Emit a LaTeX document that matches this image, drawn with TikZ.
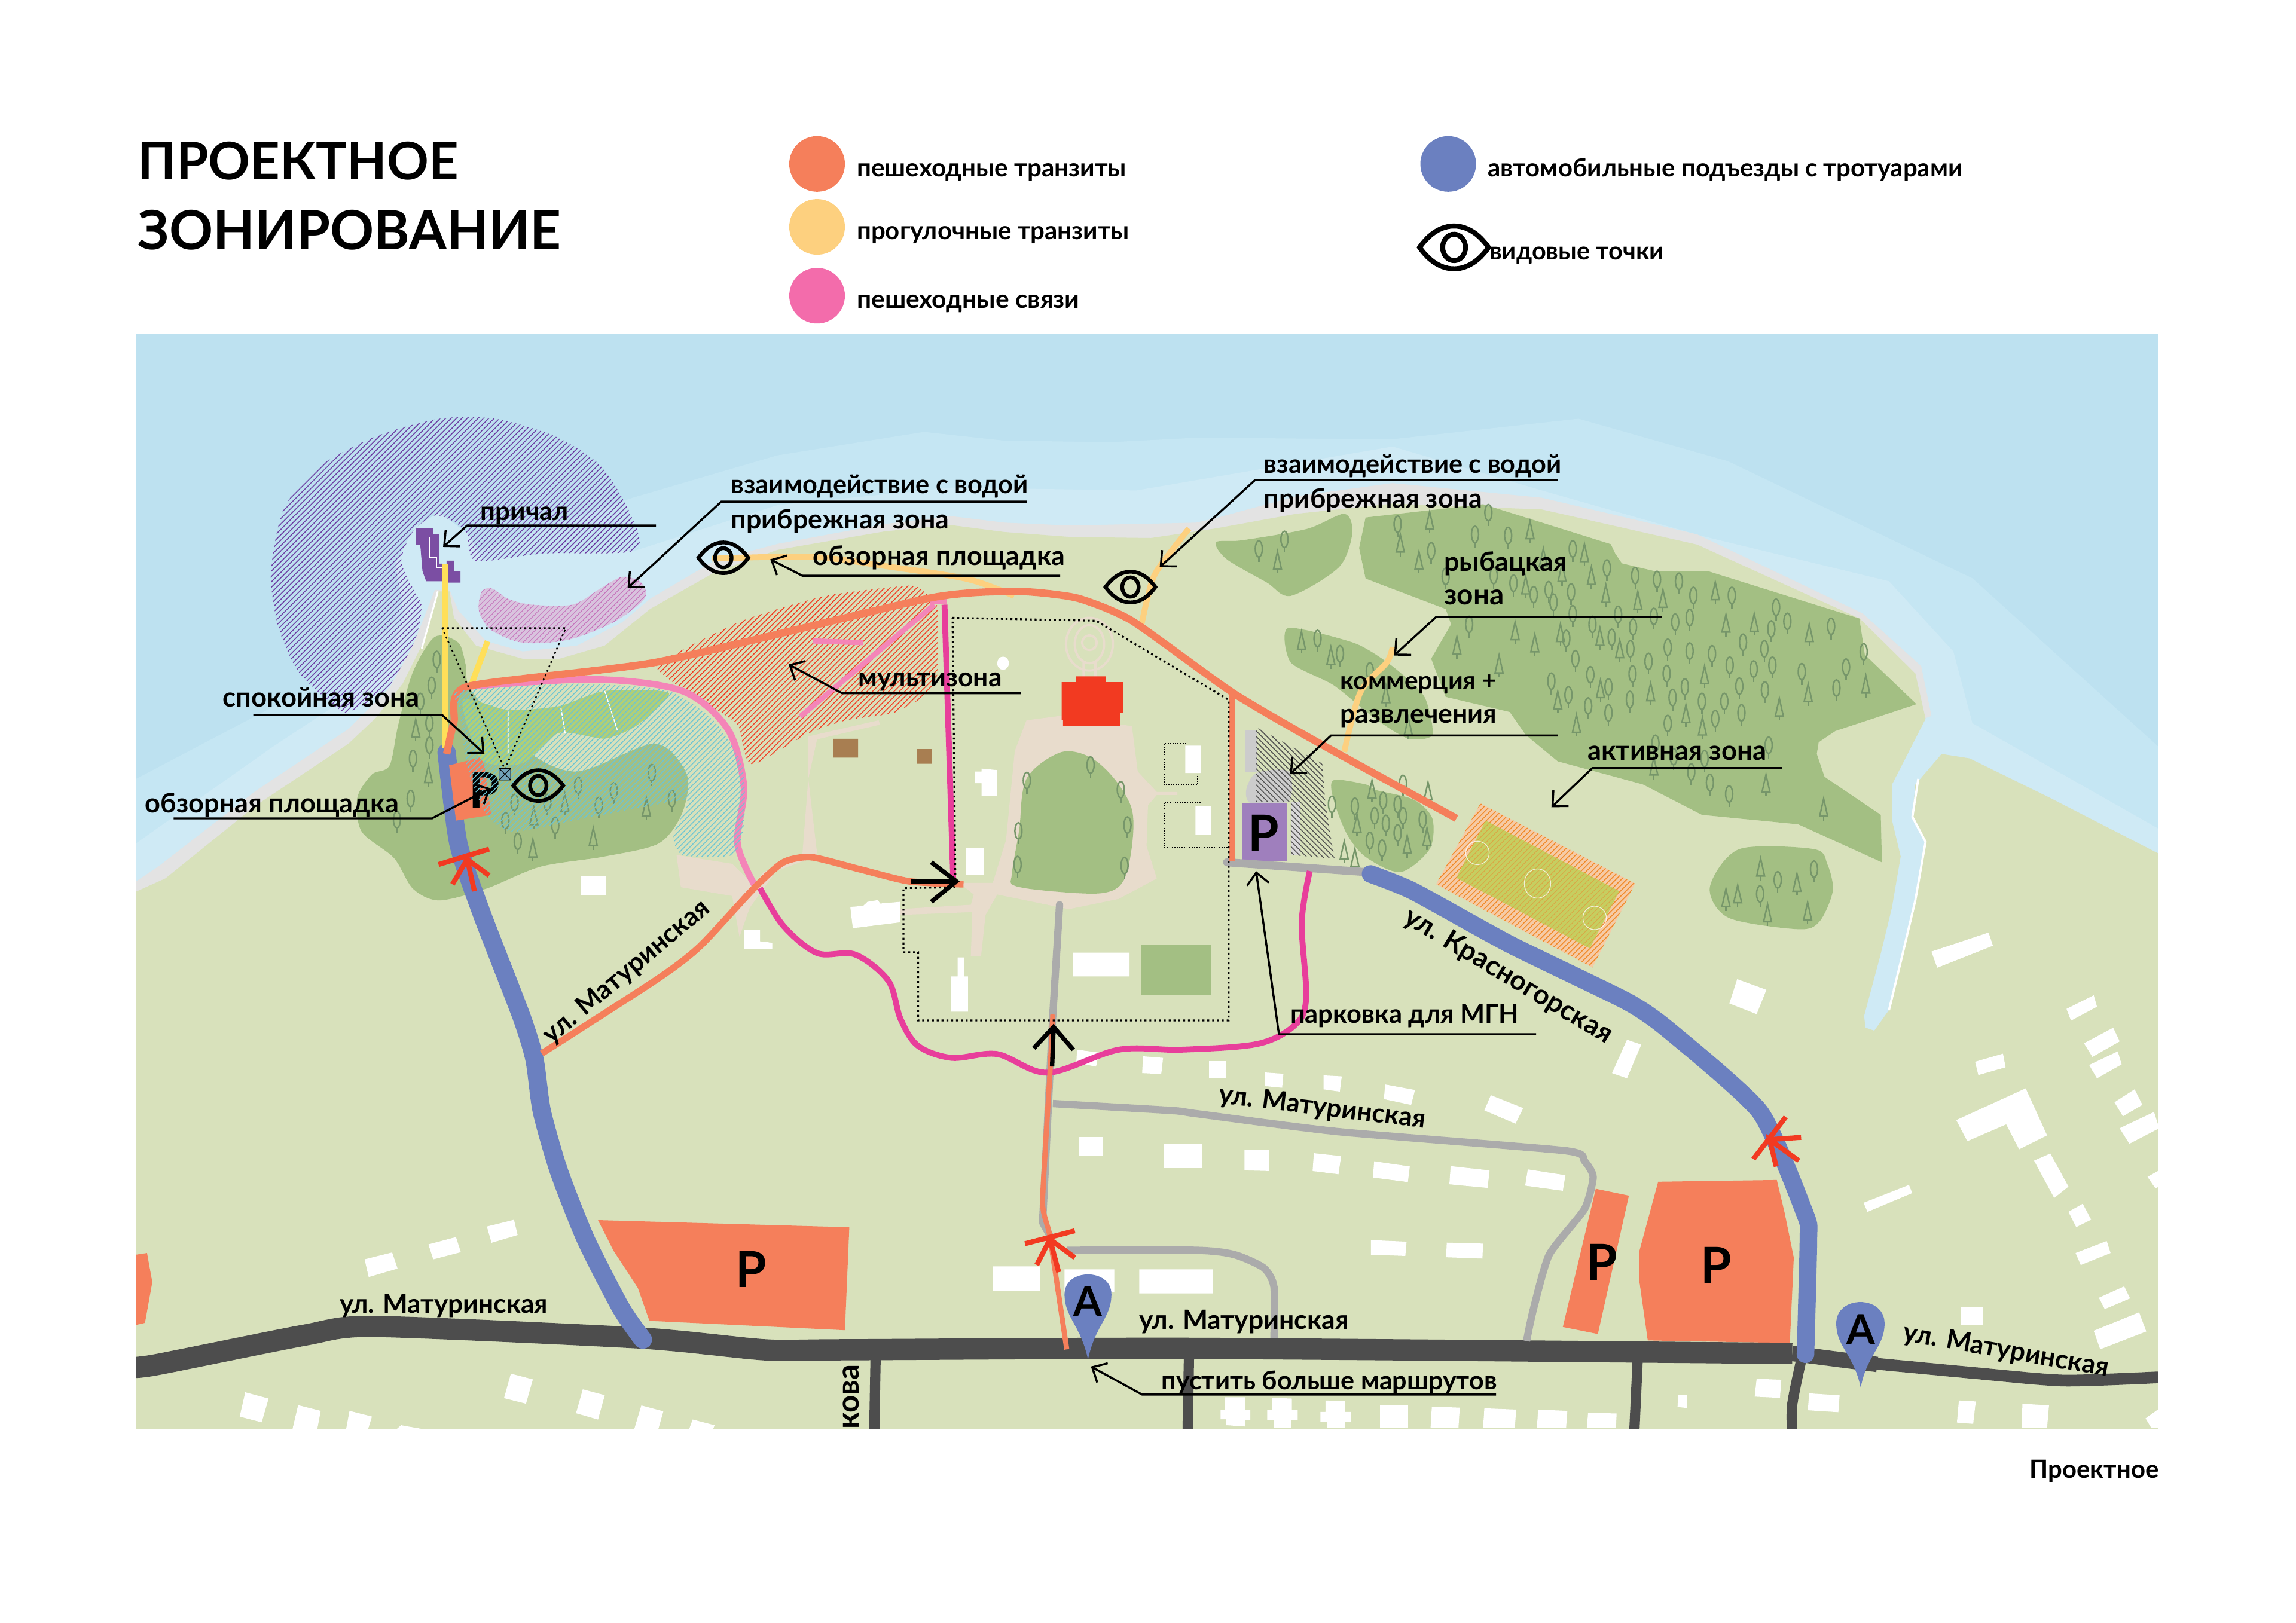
\documentclass[tikz,border=0pt]{standalone}
\usepackage{fontspec}
\setmainfont{Lato}
\usetikzlibrary{arrows.meta,patterns.meta}
\definecolor{waterD}{HTML}{BDE1F0}
\definecolor{waterM}{HTML}{C5E6F3}
\definecolor{waterL}{HTML}{CFEAF5}
\definecolor{beach}{HTML}{E3E3E3}
\definecolor{land}{HTML}{D8E1BB}
\definecolor{forest}{HTML}{A3BF83}
\definecolor{treeC}{HTML}{76966A}
\definecolor{paved}{HTML}{E8DCCC}
\definecolor{orangeL}{HTML}{F57F5B}
\definecolor{paleO}{HTML}{FDD07F}
\definecolor{yellowL}{HTML}{FFDF59}
\definecolor{pinkL}{HTML}{F485B8}
\definecolor{magentaL}{HTML}{E83E9B}
\definecolor{legPink}{HTML}{F36CAB}
\definecolor{blueR}{HTML}{6B80C0}
\definecolor{darkR}{HTML}{4D4D4D}
\definecolor{grayR}{HTML}{ABABAB}
\definecolor{redM}{HTML}{F23A21}
\definecolor{violetH}{HTML}{6E3FA3}
\definecolor{pierC}{HTML}{7B4EA3}
\definecolor{parkV}{HTML}{9F7FBD}
\definecolor{brownB}{HTML}{A87E51}
\definecolor{lilacF}{HTML}{D9C3DE}
\definecolor{lilacH}{HTML}{C46DB8}
\definecolor{cyanH}{HTML}{6CC5D4}
\definecolor{brightG}{HTML}{B0CF78}
\definecolor{brightH}{HTML}{9CC468}
\definecolor{fieldF}{HTML}{C6CE60}
\definecolor{fieldH}{HTML}{DCA543}
\definecolor{stadF}{HTML}{F6CBA6}
\definecolor{stadH}{HTML}{F08A2A}
\newcommand\fitw[2]{\resizebox{#1pt}{!}{\bfseries #2}}
\newcommand\bldpoly[1]{\fill plot coordinates {#1} -- cycle;}
\newcommand\treesD[5]{\foreach \a/\b in {#5}{\pgfmathsetmacro\px{#1+#2*\a}\pgfmathsetmacro\py{#3+#4*\b}\pic at (\px,\py) {treed};}}
\newcommand\treesC[5]{\foreach \a/\b in {#5}{\pgfmathsetmacro\px{#1+#2*\a}\pgfmathsetmacro\py{#3+#4*\b}\pic at (\px,\py) {treec};}}
\tikzset{
 lab/.style={anchor=base west,inner sep=0pt,font=\bfseries},
 street/.style={anchor=center,inner sep=0pt},
 bigP/.style={anchor=center,inner sep=0pt,font=\fontsize{34}{34}\selectfont\bfseries},
 pinA/.style={anchor=center,inner sep=0pt,font=\fontsize{28}{28}\selectfont\bfseries},
 lead/.style={line width=1.4pt,line join=miter,-{Straight Barb[length=8pt,width=15pt,line width=1.4pt]}},
 boldarrow/.style={line width=3pt,black},
 redx/.style={line width=3.4pt,redM},
 dotb/.style={line width=1.3pt,dotted,black},
 dotf/.style={line width=.7pt,densely dotted,black},
 hatchA/.style={pattern={Lines[angle=45,distance=2.6pt,line width=.6pt]}},
 hatchT/.style={pattern={Lines[angle=45,distance=2.6pt,line width=.4pt]}},
 hatchB/.style={pattern={Lines[angle=-45,distance=2.6pt,line width=.6pt]}},
 treeln/.style={line width=1pt,treeC},
 treed/.pic={\draw[treeln] (0,-2) ellipse (2.4 and 5.6); \draw[treeln] (0,3.6)--(0,7);},
 treec/.pic={\draw[treeln] (0,-8)--(2.7,4)--(-2.7,4)--cycle; \draw[treeln] (0,4)--(0,7);},
 eye/.pic={\draw[line width=2.6pt,black,line join=miter] (-17,0) .. controls (-7,-14) and (7,-14) .. (17,0) .. controls (7,14) and (-7,14) .. (-17,0) -- cycle; \draw[line width=2.6pt,black] (0,0) ellipse (5.6 and 6.6);},
 eyeL/.pic={\draw[line width=3.4pt,black,line join=miter] (-23.5,0) .. controls (-10,-19.5) and (10,-19.5) .. (23.5,0) .. controls (10,19.5) and (-10,19.5) .. (-23.5,0) -- cycle; \draw[line width=3.4pt,black] (0,0) ellipse (7.8 and 9);},
 road/.style={line cap=round,line join=round},
}
\begin{document}
\begin{tikzpicture}[x=1pt,y=-1pt]
\useasboundingbox (0,0) rectangle (1568,1108.6);
\fill[white] (0,0) rectangle (1568,1108.6);
\begin{scope}
\clip (93,228) rectangle (1474,976);
\fill[waterD] (93,228) rectangle (1474,976);
\fill[waterM] plot coordinates {(93,532) (207,472) (265,430) (280,400) (290,385) (330,375) (432,340) (531,311) (631,295) (686,301) (759,302) (817,299) (951,300) (1078,286) (1180,315) (1347,395) (1474,510) (1474,976) (93,976)} -- cycle;
\fill[waterL] plot coordinates {(93,576) (185,511) (262,460) (276,420) (270,385) (283,360) (300,350) (320,365) (330,383) (372,378) (434,376) (531,345) (650,333) (776,335) (951,305) (1053,335) (1162,366) (1290,397) (1334,445) (1347,494) (1474,566) (1474,976) (93,976)} -- cycle;
% violet hatch crescent
\path[hatchA,pattern color=violetH] plot[smooth cycle,tension=.45] coordinates {(434,376) (430,350) (410,318) (379,298) (338,286) (300,286) (257,298) (219,318) (194,347) (185,391) (190,428) (204,459) (232,485) (241,485) (263,472) (282,441) (288,415) (282,402) (274,383) (282,363) (297,352) (311,357) (319,365) (325,383) (372,378)};
% beach and land
\fill[beach] plot coordinates {(93,602) (108,592) (175,540) (238,498) (266,470) (282,441) (297,403) (307,403) (313,417) (332,438) (357,445) (394,441) (425,425) (444,409) (488,383) (531,371.5) (604,358) (649,352.5) (686,357) (731,359) (817,357) (830,354) (885,339) (951,330) (1053,340) (1159,365) (1272,419) (1312,455) (1319,489) (1290,500) (93,650)} -- cycle;
\fill[land] plot coordinates {(93,609) (113,600) (175,550) (238,508) (257,490) (275,467) (288,441) (299,404) (307,404) (310,422) (325,441) (357,450) (382,450) (413,441) (444,416) (488,391) (531,375.6) (604,363) (649,358.6) (686,363.4) (731,366.8) (786,367.5) (830,361) (885,351) (951,344) (1053,348) (1159,372) (1270,422.5) (1308,460) (1315,491) (1292,536) (1292,560) (1298,585) (1292,620) (1284,653) (1273,694) (1274,702) (1280,704) (1290,690) (1299,653) (1308,615) (1315,575) (1306,558) (1308,536) (1326,515) (1345,518) (1400,545) (1474,583) (1474,976) (93,976)} -- cycle;
\draw[white,line width=1.5pt] plot coordinates {(1310,532) (1306,558) (1315,575) (1308,615) (1299,653) (1290,690)};
\draw[white,line width=1.2pt] (288,443) -- (296,415) -- (299,404);
% bay lilac hatch
\path[fill=lilacF,postaction={hatchT,pattern color=lilacH}] plot[smooth cycle,tension=.5] coordinates {(329,404) (336,402) (347,409) (363,413) (391,413) (410,402) (425,394) (438,398) (440,409) (419,425) (388,437) (357,439) (335,430) (327,417)};
% pier
\fill[pierC] (284,361) rectangle (296,372);
\fill[pierC] plot coordinates {(291,365) (300,365) (300,385) (302,385) (302,397) (291,397) (288.5,390) (287,372)} -- cycle;
\fill[pierC] (305,383) rectangle (310,390) (305,390) rectangle (314.5,398);
\draw[white,line width=.8pt] plot coordinates {(293,367) (293,381) (298,381) (298,388) (303,388)};
% forests
\begin{scope}[fill=forest]
\fill plot[smooth cycle,tension=.5] coordinates {(297,435) (313,439) (318,454) (322,472) (357,511) (394,527) (447,508) (469,529) (466,555) (450,576) (413,585) (369,592) (332,607) (300,615) (282,607) (269,586) (247,568) (244,545) (254,529) (266,523) (272,495) (282,459)};
\fill plot[smooth cycle,tension=.5] coordinates {(830.5,370.4) (848.7,369) (892.5,361.3) (918,351) (923.5,364) (914.4,387.4) (881.5,407) (865,397.8) (837.8,382)};
\fill plot coordinates {(932.6,353.5) (1012.8,344.4) (1100,371.7) (1103,378) (1107.6,384.8) (1129.4,390) (1166,390) (1269.8,422.5) (1273.5,447.2) (1308.8,481) (1253.4,499.3) (1242,507) (1240.7,515) (1246,530.6) (1284.4,556.6) (1285.2,589) (1228,563) (1162.3,556.6) (1122,535.8) (1063.8,520) (1042,502) (1031,486.3) (987.3,476) (977.4,449.9) (991,426.4) (987.3,416) (932.6,395.2) (928.2,374.3)} -- cycle;
\fill plot[smooth cycle,tension=.4] coordinates {(879.7,429) (925.3,439.4) (950.8,455) (972.7,475.9) (978.2,502) (961.7,504.5) (939.9,491.5) (910.7,468) (881.5,452.5)};
\fill plot[smooth cycle,tension=.5] coordinates {(910.7,533) (932.6,535.8) (939.9,539.7) (965.4,546.2) (978.2,559.2) (976.3,580) (956.3,595.7) (932.6,585.3) (919.8,569.6) (910.7,546.2)};
\fill plot[smooth cycle,tension=.5] coordinates {(1187.8,580) (1238.8,580) (1248,590.5) (1251.6,608.7) (1242.5,629.5) (1228,634.7) (1180.5,626.9) (1167.7,606)};
\fill (779,645) rectangle (827,680);
\end{scope}
% paved paths
\fill[paved] plot coordinates {(701,492) (724,489) (773,496) (777,527) (790,541) (804,541) (804,543) (790,543) (784,550) (783,578) (790,600) (764,614) (730,621) (681,611) (673,625) (670,653) (663,653) (664,623) (614,625) (614,621) (663,618) (665,611) (655,603) (678,603) (687,574) (693,513)} -- cycle;
\fill[paved] plot coordinates {(552,503) (600,492) (601,495) (558,505) (552,532) (558,583) (548,583) (552,532)} -- cycle;
\fill[paved] plot coordinates {(462,584) (500,590) (515,605) (521,596) (550,583) (560,584) (530,595) (512,620) (505,640) (500,612) (465,606)} -- cycle;
\draw[paved,line width=1.6pt] (744,440) ellipse (16 and 18) (744,440) ellipse (10 and 13) (744,439) circle (5) (740,452)--(740,463) (748,452)--(748,463);
% green blob in the court
\fill[forest] plot[smooth cycle,tension=.55] coordinates {(724,514) (744,517) (761,532) (773,553) (773,578) (767,602) (753,610) (721,609) (693,605) (691,597) (696,567) (701,532)};
% multizone hatch
\path[hatchA,pattern color=redM] plot[smooth cycle,tension=.35] coordinates {(451,452) (507,424) (564,407) (621,400) (632,405) (640,414) (640,461) (632,475) (610,487) (578,492) (552,501) (515,522) (508,513) (503,494) (472,475) (451,459)};
% church
\fill[redM] plot coordinates {(725,466) (735,466) (735,462) (755,462) (755,466) (767,466) (767,487) (765,487) (765,496) (726,496) (726,492) (725,492)} -- cycle;
\fill[brownB] (569,504.6) rectangle (586,517.5) (626,511.7) rectangle (636.5,521.7);
% stadium
\path[fill=stadF,postaction={hatchA,pattern color=stadH}] plot coordinates {(1011,548.8) (1116.7,603.5) (1087.5,660.8) (980.7,604)} -- cycle;
\path[fill=fieldF,postaction={hatchT,pattern color=fieldH}] plot coordinates {(1014.6,560.5) (1105.8,608.7) (1085.7,647.8) (994.6,599.6)} -- cycle;
\draw[white,line width=.5pt,opacity=.75] (1050,603.5) ellipse (9 and 10) (1009,582.6) circle (8) (1089,627) circle (8);
% trees
\treesD{775.8}{.3646}{285.8}{.2604}{230/350,278/325,490/285,660/255,635/312,697/315,553/355,818/350,882/400,935/420,976/430,1017/435,1044/472,1116/472,1199/503,1220/540,1190/560,1302/553,1137/595,1177/612,1157/665,1192/655,1247/672,1330/660,1363/620,1312/715,1112/655,1079/625,1037/618,996/608,1037/530,1010/542,970/527,931/555,903/522,855/548,891/582,926/612,960/645,994/677,1028/712,1060/750,1102/750,1130/710,1178/720,1134/780,1085/795,1005/740,925/745,885/780,847/762,885/712,851/680,823/638,930/678,778/697,810/733,806/585,818/520,782/490,815/463,773/457,745/470,707/440,670/420,580/422,624/548,996/808,1007/895,1040/935,1075/963,1111/993,1185/865,1065/900,973/860,340/585,382/625,438/670,410/1025,463/1010,490/1020,500/1050,447/1050,468/1070,537/1060,490/1095,438/1115,461/1135,500/965,367/1020,1270/1190,1202/1218,1169/1255}
\treesC{775.8}{.3646}{285.8}{.2604}{550/275,738/300,495/335,530/380,763/372,840/360,853/420,798/412,730/445,880/467,940/485,987/480,1085/460,1105/545,1158/543,1261/570,710/565,795/570,747/597,601/603,869/580,906/612,1065/680,964/725,1030/782,1061/815,825/808,790/747,870/717,680/652,1205/765,1259/727,1367/705,310/590,365/630,468/730,510/815,970/920,1180/965,1288/1028,442/980,414/1070,508/1125,390/1140,410/1160,545/1105,547/985,1170/1185,1238/1225,1105/1265,1127/1255,1183/1305,1258/1300,265/380}
\treesD{81.7}{.3125}{224.6}{.2604}{693/875,682/943,657/985,677/1042,677/1100,641/1135,636/1240,606/1295,863/1250,935/1250,1002/1205,1080/1220,1163/1172,1207/1240,1047/1258,952/1310,843/1298,870/1352}
\treesC{81.7}{.3125}{224.6}{.2604}{647/1055,675/1175,905/1285,973/1250,1151/1262,1035/1340,903/1370}
\treesD{449.2}{.2864}{367.5}{.2344}{880/715,1032/670,1104/742,860/862,1120/845,858/960,1113/963}
% buildings
\begin{scope}[fill=white]
\fill (396.7,598) rectangle (413.6,611.3);
\bldpoly{(1319,650) (1358,637) (1361,646) (1323,661)}
\bldpoly{(508,635) (519,635) (519,643) (527.4,644) (527.4,648) (508,648)}
\bldpoly{(580.7,619.5) (589.5,618.8) (592.4,616) (599.6,614.8) (601,617.2) (614.7,616) (614.7,630) (582.4,634)}
\fill (659.7,579) rectangle (672,597.2);
\bldpoly{(666,527) (670.3,527) (670.3,525) (680.6,526) (680.6,543.8) (670.3,543.8) (670.3,535) (666,535)}
\fill (809.5,509.3) rectangle (820,528) (816.4,550.8) rectangle (827,570.3);
\fill (732.7,650.7) rectangle (771.4,667) (649.7,667) rectangle (661,691) (654,654) rectangle (658.3,667);
\fill (685,453) ellipse (4 and 4.5);
\bldpoly{(735.6,717) (750.5,719) (748.5,728.5) (735,726)}
\bldpoly{(780.6,721.5) (794.3,722.6) (793,733.6) (780,733)}
\fill (825.8,725) rectangle (837.3,735);
\bldpoly{(332.5,837.8) (351,833.2) (353.5,843.6) (335.7,848.9)}
\bldpoly{(292.6,850) (311.4,845) (314.7,855.3) (295.9,860.2)}
\bldpoly{(249,860.2) (267.8,855.5) (271.5,866.5) (251.8,872.3)}
\bldpoly{(348.9,938.3) (363.9,942.2) (359.2,958.8) (344.2,955)}
\bldpoly{(398,949) (413,953) (408.4,969.6) (393.4,965.3)}
\bldpoly{(167.5,951) (183.4,955.3) (178.7,971.5) (163.7,967.6)}
\bldpoly{(203.6,959.8) (219,963.7) (216.7,976) (199.8,976)}
\bldpoly{(238.7,963.7) (254,967.6) (251.4,976) (236.4,976)}
\bldpoly{(274,973.5) (288,976) (271,976)}
\bldpoly{(438,960) (453,964) (449.6,976) (433.2,976)}
\bldpoly{(473,969.6) (488,973.5) (487,976) (470.7,976)}
\fill (736.5,776.8) rectangle (753.4,789.3);
\fill (795,781) rectangle (821,798);
\fill (678,865) rectangle (710,881.7) (727,867) rectangle (761,882.7) (778,867) rectangle (828,883.5);
% east part (zoom 5 frame)
\begin{scope}[shift={(816.7,653.3)},x=.4427pt,y=-.2214pt]
\bldpoly{(20,322) (47,322) (47,376) (20,376)}
\bldpoly{(107,358) (135,362) (133,405) (107,400)}
\bldpoly{(197,367) (225,370) (222,417) (197,410)}
\bldpoly{(292,395) (338,412) (332,458) (290,440)}
\bldpoly{(455,428) (505,468) (493,516) (445,475)}
\bldpoly{(75,597) (113,597) (113,662) (75,660)}
\bldpoly{(182,607) (224,616) (220,672) (180,662)}
\bldpoly{(275,632) (330,648) (327,696) (273,682)}
\bldpoly{(393,647) (453,660) (450,714) (391,703)}
\bldpoly{(512,657) (570,675) (566,723) (508,707)}
\bldpoly{(270,875) (325,880) (323,924) (270,920)}
\bldpoly{(387,883) (443,886) (442,932) (386,928)}
\bldpoly{(835,70) (880,103) (865,178) (823,145)}
\bldpoly{(665,257) (687,272) (665,376) (642,360)}
\bldpoly{(1385,120) (1390,155) (1350,198) (1343,162)}
\bldpoly{(1415,220) (1425,262) (1383,310) (1370,268)}
\bldpoly{(1245,300) (1249,342) (1207,366) (1202,325)}
\bldpoly{(1422,293) (1428,333) (1390,376) (1378,335)}
\bldpoly{(1280,407) (1313,552) (1270,595) (1250,518) (1190,570) (1173,505)}
\bldpoly{(1448,410) (1460,458) (1430,493) (1417,450)}
\bldpoly{(1478,480) (1486,530) (1440,578) (1425,530)}
\bldpoly{(1318,608) (1346,710) (1324,745) (1293,630)}
\bldpoly{(1486,660) (1486,710) (1480,715) (1468,680)}
\bldpoly{(1100,705) (1105,730) (1036,788) (1030,760)}
\bldpoly{(1368,763) (1381,812) (1358,835) (1346,788)}
\bldpoly{(1405,878) (1411,915) (1365,952) (1357,915)}
\bldpoly{(1432,1018) (1441,1055) (1402,1088) (1393,1053)}
\bldpoly{(1180,1082) (1214,1082) (1214,1137) (1180,1137)}
\bldpoly{(1455,1098) (1466,1157) (1395,1212) (1385,1155)}
\bldpoly{(865,1303) (903,1306) (901,1362) (862,1358)}
\bldpoly{(744,1352) (758,1354) (757,1393) (743,1390)}
\bldpoly{(946,1348) (993,1354) (991,1406) (944,1400)}
\bldpoly{(1177,1370) (1203,1373) (1199,1442) (1174,1438)}
\bldpoly{(1275,1380) (1316,1385) (1313,1455) (1274,1455)}
\bldpoly{(1486,1395) (1486,1455) (1474,1455) (1465,1425)}
\bldpoly{(284,1385) (327,1385) (327,1455) (284,1455)}
\bldpoly{(364,1389) (407,1392) (405,1455) (362,1455)}
\bldpoly{(445,1394) (494,1398) (492,1455) (443,1455)}
\bldpoly{(528,1398) (573,1402) (571,1455) (526,1455)}
\bldpoly{(605,1408) (649,1410) (648,1455) (603,1455)}
\bldpoly{(45,1360) (76,1360) (76,1400) (84,1400) (84,1430) (76,1430) (76,1450) (47,1446) (47,1428) (38,1428) (38,1400) (45,1400)}
\bldpoly{(118,1362) (148,1364) (148,1400) (157,1400) (157,1430) (147,1430) (147,1455) (120,1455) (120,1430) (110,1430) (110,1400) (118,1400)}
\bldpoly{(200,1370) (230,1372) (230,1405) (239,1405) (239,1435) (230,1435) (230,1455) (202,1455) (202,1435) (192,1435) (192,1405) (200,1405)}
\end{scope}
\end{scope}
% orange parkings
\fill[orangeL] plot coordinates {(93,857) (100.4,855.9) (104,875.8) (99,903.6) (93,905)} -- cycle;
\fill[orangeL] plot coordinates {(408.4,833.4) (580,838.3) (577,908.6) (443.5,902.2) (435.6,879.7) (419,854.3)} -- cycle;
\fill[orangeL] plot coordinates {(1089.8,812) (1112.4,816.7) (1091.2,911.2) (1067.3,906.4)} -- cycle;
\fill[orangeL] plot coordinates {(1132.4,807.2) (1213.4,806) (1218.7,828.2) (1225,859) (1222.3,917.4) (1125.3,915.6) (1119.5,874.7) (1119.5,854.8)} -- cycle;
% gray parking hatch
\fill[gray!40] (850,499) rectangle (858.6,527.5);
\fill[gray!40] plot[smooth cycle,tension=.5] coordinates {(858,528) (880,527) (880,547) (855,549) (851,540)};
\fill[gray!30] (881.5,547.5) rectangle (888,584);
\path[hatchB,pattern color=darkR] plot coordinates {(857.8,496.7) (903,521.5) (905,547.5) (911.4,586.6) (881.5,584) (881.5,547.5) (857.8,547.5)} -- cycle;
\fill[parkV] (848,548.3) rectangle (878.6,588.4);
% roads
\draw[darkR,line width=14.5pt] plot[smooth,tension=.4] coordinates {(85,934) (105,932.5) (208,912) (255,906) (438,914) (522,922) (574,922) (817,921) (1224,924.5)};
\draw[darkR,line width=10.5pt] (1224,924.5) -- (1282,932);
\draw[darkR,line width=8pt] plot[smooth,tension=.4] coordinates {(1276,931) (1350,938) (1410,943) (1480,940.5)};
\draw[darkR,line width=7pt] (598,925) -- (597,980) (812,925) -- (811,980) (1118.6,925) -- (1116,980);
\draw[darkR,line width=7pt] plot[smooth,tension=.5] coordinates {(1231,925) (1224,959) (1224,980)};
\draw[grayR,line width=5.5pt,road] (838,589) -- (932,595.6);
\draw[grayR,line width=5pt,road] (723.6,618) -- (719,693) -- (717,733) -- (712,835) -- (717,844);
\draw[grayR,line width=5pt] plot[smooth,tension=.35] coordinates {(719,753.8) (801,758.6) (817,760.7) (914,773) (1069,786) (1082,793) (1088,804) (1082,826) (1058,857) (1047,895) (1042.5,916)};
\draw[grayR,line width=5pt] plot[smooth,tension=.4] coordinates {(728.5,854) (817,854) (843,857) (863,866) (870,879) (870,914)};
\draw[blueR,line width=12.5pt,road] plot[smooth,tension=.4] coordinates {(305,514) (313,576) (328.6,623) (356,694) (365,723.5) (370,759) (381.7,800) (400,846.5) (424,893.4) (439,915)};
\draw[blueR,line width=12pt,road] plot[smooth,tension=.35] coordinates {(936,597) (965,608.7) (1031,645) (1111,684) (1140,704) (1202,759.6) (1233,830) (1235,846) (1233,925)};
% pedestrian lines
\draw[yellowL,line width=4pt] (304,385) -- (304,511);
\draw[yellowL,line width=4pt] (333,438) -- (320.7,470.7);
\draw[paleO,line width=4pt] plot[smooth,tension=.5] coordinates {(486.4,381.6) (555,380.4) (609.6,387.4) (661,395.6) (692.6,407)};
\draw[paleO,line width=4pt] plot[smooth,tension=.5] coordinates {(812,361) (790,390) (784,407) (779,429)};
\draw[paleO,line width=4pt] plot[smooth,tension=.5] coordinates {(951,442) (947,452.5) (929,473) (918,513.6)};
\draw[pinkL,line width=4.5pt] plot[smooth,tension=.5] coordinates {(319,469) (406.7,464) (466,472) (497,498) (508,537) (503.6,576) (515,604)};
\draw[magentaL,line width=4pt] plot[smooth,tension=.55] coordinates {(519,606.6) (535,632.4) (558,651) (584,652) (606.7,670) (615,696) (627,714.4) (650,722.6) (681,720) (715.5,732.7) (764,717) (807,717) (859,713) (884.5,700) (892,681.6) (889,630) (894.5,595)};
\draw[magentaL,line width=4pt] (645,413) -- (651,602);
\draw[pinkL,line width=4pt] (635.4,411) -- (646.8,411);
\draw[pinkL,line width=3.6pt] (638,413) -- (546.6,489.4);
\draw[pinkL,line width=3.6pt] (555,437.8) -- (589.5,439);
\draw[orangeL,line width=5pt] plot[smooth,tension=.35] coordinates {(305,515) (310,493) (319,469) (450,452) (635,408.5) (695.5,404) (735.6,408.5) (773,424) (841.6,473) (898,506) (994.6,559)};
\draw[orangeL,line width=4pt] (841.6,473) -- (841.6,588);
\draw[orangeL,line width=4.5pt] plot[smooth,tension=.4] coordinates {(370,719.6) (449,668.7) (478,646.4) (515,606.6) (535,589) (554,585.5) (587,593.7) (621,602) (658,604)};
\draw[orangeL,line width=3.5pt] plot[smooth,tension=.3] coordinates {(719,693) (717,733) (712,821) (717,844.6) (728.5,921.7)};
% left parking, view zone
\fill[orangeL] plot coordinates {(306.7,522.8) (330,516.8) (335.4,556.6) (311.4,560.5)} -- cycle;
\node (pSmall) [bigP] at (331,540) {P};
\path[fill=brightG,postaction={hatchT,pattern color=brightH}] plot[smooth cycle,tension=.4] coordinates {(316,478.5) (347,485) (381.7,482.4) (413,472) (456.7,473.3) (435,495.4) (413,504.5) (381.7,500.6) (356.7,521.4) (328.6,519)};
\draw[white,line width=.7pt] (347,485)--(347,515) (383,483)--(386,501) (413,472)--(422,500);
\path[hatchA,pattern color=cyanH] plot[smooth cycle,tension=.4] coordinates {(314,472) (394,467) (456,472) (488,493) (507,524) (508,563) (500,584) (466,584) (460,570) (470,548) (457,548) (394,560) (350,568) (332,556) (319,524) (314,485)};
\draw[dotb,line width=1pt] (302,429) -- (386.4,429) -- (344.8,525.4) -- cycle;
\fill[gray!60!cyan] (340.8,524.8) rectangle (348.8,532.8);
\draw[black,line width=.5pt] (340.8,524.8) rectangle (348.8,532.8) (340.8,524.8)--(348.8,532.8) (340.8,532.8)--(348.8,524.8);
% dotted boundaries
\draw[dotb] plot coordinates {(650.5,422) (748.5,424) (839,478) (839,697) (627,697) (627,650.4) (617,650.4) (617,606.6) (652.5,606)} -- cycle;
\draw[dotf] (810,508) -- (795,508) -- (795,536) -- (818,536) -- (818,528);
\draw[dotf] (820,548) -- (795,548) -- (795,579) -- (839,579);
% arrows, red marks
\draw[redx] (299.5,590.5)--(334,580) (324,608.7)--(319,586.6) (309,604)--(319,587)--(334,598);
\draw[redx] (700,849.5)--(734,840.7) (723,869)--(717,846.5) (708,864)--(717,846.5)--(734,859);
\draw[redx] (1219.5,763)--(1197.4,791.7) (1230,776.9)--(1208.5,778.4) (1213,796.8)--(1208.5,778.4)--(1228.4,792.8);
\draw[boldarrow] (622,602)--(653,602) (636,589)--(653,602)--(636,616);
\draw[boldarrow] (718.5,728.5)--(719.5,701.5) (706,716)--(719.5,701.5)--(733,717);
% pins
\fill[blueR] (743,928.6) .. controls (738,905) and (727,900) .. (727,884) .. controls (727,866) and (759,866) .. (759,884) .. controls (759,900) and (748,905) .. (743,928.6) -- cycle;
\fill[blueR] (1270.7,947.8) .. controls (1266,925) and (1254,920) .. (1254,904) .. controls (1254,884.5) and (1287,884.5) .. (1287,904) .. controls (1287,920) and (1275,925) .. (1270.7,947.8) -- cycle;
\end{scope}
% parking and pin letters
\node (pA) [bigP] at (513,867) {P};
\node (pB) [bigP] at (1094,862) {P};
\node (pC) [bigP] at (1172,864) {P};
\node (pD) [bigP] at (863,569) {P};
\node (aA) [pinA] at (743,889) {A};
\node (aB) [pinA] at (1270.7,908) {A};
% eyes
\pic at (494,381) {eye};
\pic at (772,401) {eye};
\pic at (367.6,536.6) {eye};
\pic at (993,169) {eyeL};
% legend
\fill[orangeL] (558,112) circle (19);
\fill[paleO] (558,155) circle (19);
\fill[legPink] (558,202) circle (19);
\fill[blueR] (989,112) circle (19);
\node (t1) [lab] at (94,122.5) {\fitw{219}{ПРОЕКТНОЕ}};
\node (t2) [lab] at (94,170.5) {\fitw{289}{ЗОНИРОВАНИЕ}};
\node (l1) [lab] at (585,120.5) {\fitw{184}{пешеходные транзиты}};
\node (l2) [lab] at (585,163.5) {\fitw{186}{прогулочные транзиты}};
\node (l3) [lab] at (585,210.5) {\fitw{152}{пешеходные связи}};
\node (l4) [lab] at (1016,120.5) {\fitw{324}{автомобильные подъезды с тротуарами}};
\node (l5) [lab] at (1017,177.5) {\fitw{119}{видовые точки}};
\node (foot) [lab] at (1386,1009.5) {\fitw{88}{Проектное}};
% map labels
\node (a1) [lab] at (328,355.5) {\fitw{60}{причал}};
\node (a2) [lab] at (499,337) {\fitw{203}{взаимодействие с водой}};
\node (a3) [lab] at (499,361) {\fitw{149}{прибрежная зона}};
\node (a4) [lab] at (555,386) {\fitw{172}{обзорная площадка}};
\node (a5) [lab] at (586,469) {\fitw{98}{мультизона}};
\node (a6) [lab] at (152,483) {\fitw{134}{спокойная зона}};
\node (a7) [lab] at (99,555) {\fitw{173}{обзорная площадка}};
\node (a8) [lab] at (863,323) {\fitw{203}{взаимодействие с водой}};
\node (a9) [lab] at (863,347) {\fitw{149}{прибрежная зона}};
\node (a10) [lab] at (986,390) {\fitw{84}{рыбацкая}};
\node (a11) [lab] at (986,413) {\fitw{41}{зона}};
\node (a12) [lab] at (915,471) {\fitw{107}{коммерция +}};
\node (a13) [lab] at (915,494) {\fitw{107}{развлечения}};
\node (a14) [lab] at (1084,519) {\fitw{122}{активная зона}};
\node (a15) [lab] at (881,699) {\fitw{156}{парковка для МГН}};
\node (a16) [lab] at (793,949) {\fitw{229}{пустить больше маршрутов}};
% street labels
\node (s1) [street] at (303,892) {\fitw{142}{ул. Матуринская}};
\node (s2) [street] at (849.5,903) {\fitw{143}{ул. Матуринская}};
\node (s3) [street,rotate=-7] at (903,757) {\fitw{142}{ул. Матуринская}};
\node (s4) [street,rotate=-10] at (1370,923) {\fitw{142}{ул. Матуринская}};
\node (s5) [street,rotate=40] at (428,664) {\fitw{142}{ул. Матуринская}};
\node (s6) [street,rotate=-31] at (1030,667) {\fitw{162}{ул. Красногорская}};
\node (s7) [street,rotate=90] at (581,954) {\fitw{44}{кова}};
% leaders
\coordinate (L1a) at (448,359); \coordinate (L1b) at (319,359); \coordinate (L1c) at (302.6,373.6);
\coordinate (L2a) at (701,342.6); \coordinate (L2b) at (492.6,342.6); \coordinate (L2c) at (428.6,401.7);
\coordinate (L3a) at (724,393.3); \coordinate (L3b) at (548,393.3); \coordinate (L3c) at (526,382);
\coordinate (L4a) at (697,473.5); \coordinate (L4b) at (575,473.5); \coordinate (L4c) at (538.6,453.8);
\coordinate (L5a) at (173,488.4); \coordinate (L5b) at (302,488.4); \coordinate (L5c) at (330.8,515);
\coordinate (L6a) at (118.6,559); \coordinate (L6b) at (295,559); \coordinate (L6c) at (335,538.4);
\coordinate (L7a) at (1064,328); \coordinate (L7b) at (857,328); \coordinate (L7c) at (792,387.4);
\coordinate (L8a) at (1135,421.5); \coordinate (L8b) at (980.7,421.5); \coordinate (L8c) at (952,447.8);
\coordinate (L9a) at (1064,502.4); \coordinate (L9b) at (909,502.4); \coordinate (L9c) at (881,528.8);
\coordinate (L10a) at (1217,524.6); \coordinate (L10b) at (1087.5,524.6); \coordinate (L10c) at (1059.5,551.4);
\coordinate (L11a) at (1049,706.4); \coordinate (L11b) at (873.4,706.4); \coordinate (L11c) at (857.8,595);
\coordinate (L12a) at (1021.7,952.6); \coordinate (L12b) at (780,952.6); \coordinate (L12c) at (745,933.4);
\foreach \n in {1,...,12}{\draw[lead] (L\n a) -- (L\n b) -- (L\n c);}
\end{tikzpicture}
\end{document}
